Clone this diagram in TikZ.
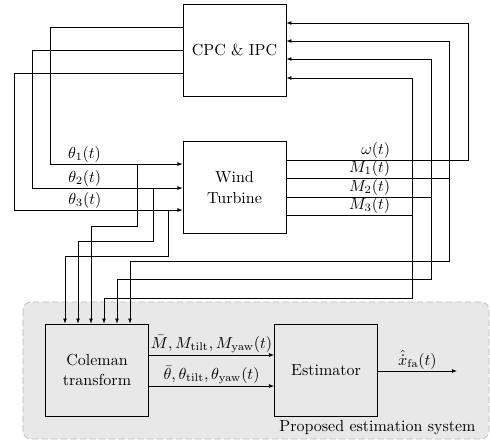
\documentclass[tikz,border=0pt]{standalone}
\usetikzlibrary{arrows.meta}
\begin{document}
\begin{tikzpicture}[x=0.625pt,y=-0.625pt,line width=0.45pt,
  block/.style={draw,fill=white,minimum width=64.4pt,minimum height=57.5pt,align=center,inner sep=0pt},
  sig/.style={-{Latex[length=3.2pt,width=2.4pt]}},
  lbl/.style={inner sep=1pt,font=\normalsize}]
\useasboundingbox (0,0) rectangle (490,445);

% shaded estimation region
\draw[gray!55,fill=gray!18,dashed,dash pattern=on 4pt off 2pt,rounded corners=5pt]
  (23,302) rectangle (489,439);
\node[anchor=base] (region) at (377.5,431) {Proposed estimation system};

% blocks
\node[block] (cpc) at (234.5,50) {CPC \& IPC};
\node[block] (wt) at (234.5,187.5) {Wind\\[1pt]Turbine};
\node[block,fill=none] (cole) at (97,370) {Coleman\\[0pt]transform};
\node[block,fill=none] (est) at (326,370) {Estimator};

% pitch commands from the controller to the turbine
\draw[sig] (cpc.west |- 0,27) -- (50,27) -- (50,164)
  -- node[lbl,above,pos=0.26] {$\theta_1(t)$} (wt.west |- 0,164);
\draw[sig] (cpc.west |- 0,50) -- (32,50) -- (32,188)
  -- node[lbl,above,pos=0.35] {$\theta_2(t)$} (wt.west |- 0,188);
\draw[sig] (cpc.west |- 0,73) -- (14,73) -- (14,210)
  -- node[lbl,above,pos=0.42] {$\theta_3(t)$} (wt.west |- 0,210);

% pitch angles tapped into the Coleman transform
\coordinate (t1) at (137,164);
\coordinate (t2) at (153,188);
\coordinate (t3) at (168,210);
\draw[sig] (t1) -- (137,226) -- (91,226) -- (cole.north -| 91,0);
\draw[sig] (t2) -- (153,241) -- (78,241) -- (cole.north -| 78,0);
\draw[sig] (t3) -- (168,256) -- (65,256) -- (cole.north -| 65,0);

% turbine measurements fed back to the controller
\draw[sig] (wt.east |- 0,160) -- (468,160) -- (468,23) -- (cpc.east |- 0,23);
\draw[sig] (wt.east |- 0,178) -- (449,178) -- (449,41) -- (cpc.east |- 0,41);
\draw[sig] (wt.east |- 0,197) -- (431,197) -- (431,59) -- (cpc.east |- 0,59);
\draw[sig] (wt.east |- 0,215) -- (412,215) -- (412,78) -- (cpc.east |- 0,78);
\node[lbl,anchor=south east] (lw) at (392,160) {$\omega(t)$};
\node[lbl,anchor=south east] (lm1) at (392,178) {$M_1(t)$};
\node[lbl,anchor=south east] (lm2) at (392,197) {$M_2(t)$};
\node[lbl,anchor=south east] (lm3) at (392,215) {$M_3(t)$};

% blade moments into the Coleman transform
\coordinate (m1) at (449,178);
\coordinate (m2) at (431,197);
\coordinate (m3) at (412,215);
\draw[sig] (m1) -- (449,261) -- (130,261) -- (cole.north -| 130,0);
\draw[sig] (m2) -- (431,279) -- (117,279) -- (cole.north -| 117,0);
\draw[sig] (m3) -- (412,298) -- (104,298) -- (cole.north -| 104,0);

% transformed signals into the estimator
\draw[sig] (cole.east |- 0,355) --
  node[lbl,above] {$\bar{M},M_{\mathrm{tilt}},M_{\mathrm{yaw}}(t)$} (est.west |- 0,355);
\draw[sig] (cole.east |- 0,386) --
  node[lbl,above] {$\bar{\theta},\theta_{\mathrm{tilt}},\theta_{\mathrm{yaw}}(t)$} (est.west |- 0,386);

% estimator output
\coordinate (out) at (457,371);
\draw[sig] (est.east |- 0,371) -- node[lbl,above,pos=0.5] {$\hat{\dot{x}}_{\mathrm{fa}}(t)$} (out);
\end{tikzpicture}
\end{document}
